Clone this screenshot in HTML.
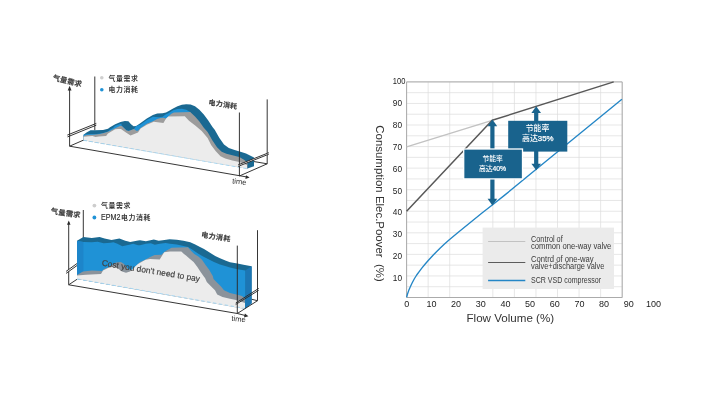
<!DOCTYPE html>
<html><head><meta charset="utf-8"><title>chart</title>
<style>html,body{margin:0;padding:0;background:#fff}body{width:710px;height:400px;overflow:hidden}svg{display:block;will-change:transform}</style>
</head><body>
<svg width="710" height="400" viewBox="0 0 710 400">
<rect width="710" height="400" fill="#fff"/>
<g id="chart1">
<g stroke="#2b2b2b" stroke-width="0.95" fill="none">
<line x1="94.8" y1="76.5" x2="94.8" y2="130.3"/>
<line x1="267.2" y1="99.4" x2="267.2" y2="163.8"/>
<line x1="69.6" y1="146.2" x2="84" y2="139.9"/>
<line x1="250" y1="160.9" x2="267.2" y2="163.8"/>
</g>
<polygon points="83.6,134.7 86.5,132.6 90.5,130.3 94.9,130.3 103.0,130.0 108.0,128.8 110.0,127.3 115.2,124.2 120.5,122.1 124.9,120.9 128.4,121.2 131.0,124.2 133.6,126.2 136.2,126.0 140.6,122.9 146.8,118.6 152.9,115.1 157.2,113.6 162.5,113.3 166.0,112.4 168.8,111.1 173.1,108.5 177.5,106.3 181.9,104.8 186.2,104.3 190.6,104.6 195.0,106.3 199.4,109.8 203.8,114.6 208.1,120.3 212.5,126.9 214.7,129.7 219.4,137.9 224.0,144.4 228.8,147.9 234.6,149.9 240.5,151.8 246.0,153.6 250.0,155.4 254.0,157.5 254.0,166.3 247.5,168.5 83.6,140.3" fill="#1a6992"/>
<polygon points="83.6,134.8 86.1,134.2 90.5,133.9 96.8,133.9 103.0,133.0 108.0,131.4 110.0,129.6 113.0,128.0 115.2,125.8 121.4,123.4 121.6,125.6 126.6,130.4 128.8,130.8 134.0,129.1 136.2,126.0 140.6,124.4 146.8,120.0 152.9,116.8 159.0,117.2 162.5,116.8 166.0,114.2 168.8,112.9 173.1,110.2 177.5,108.9 181.9,108.7 186.2,109.8 190.2,112.0 192.0,116.0 192.0,150.0 83.6,140.3" fill="#1f92d6"/>
<polygon points="83.6,136.0 86.8,135.0 93.6,134.7 99.9,133.9 104.9,132.8 109.2,131.2 115.2,128.2 120.5,125.8 121.8,126.0 126.6,130.5 128.8,131.0 134.0,129.1 136.2,130.8 138.0,130.8 140.6,127.9 146.8,123.8 152.9,121.2 157.2,119.0 160.8,117.9 163.5,117.7 166.1,118.6 168.8,115.9 171.4,113.8 174.0,112.4 190.2,112.0 195.0,116.4 199.4,121.6 203.8,127.8 207.6,132.0 212.3,140.3 217.0,147.3 221.7,151.8 226.4,153.8 233.4,155.5 239.3,157.1 244.0,159.8 247.5,162.6 247.5,168.5 83.6,140.3" fill="#9c9c9c"/>
<polygon points="83.6,136.8 89.2,136.2 92.4,135.9 95.5,137.0 99.0,136.5 106.1,136.0 108.0,133.6 110.5,131.9 115.2,129.3 118.0,128.9 121.0,129.0 125.2,132.0 130.5,135.6 138.0,132.6 140.6,128.6 146.8,124.7 153.8,121.8 163.4,122.9 166.1,118.6 168.3,116.4 184.8,116.2 189.0,120.8 195.2,125.6 201.7,130.9 207.6,137.9 211.1,145.0 215.8,151.2 220.5,156.2 225.2,158.6 232.3,160.5 239.3,162.0 245.0,164.2 247.0,165.0 247.0,168.7 83.6,140.3" fill="#ececec"/>
<line x1="83.6" y1="140.3" x2="247" y2="168.7" stroke="#9dd3f2" stroke-width="0.85" stroke-dasharray="3.5 2.5"/>
<g stroke="#2b2b2b" stroke-width="0.95" fill="none">
<line x1="69.6" y1="88" x2="69.6" y2="146.2"/>
<line x1="69.6" y1="146.2" x2="247" y2="177"/>
<line x1="239.4" y1="112.5" x2="239.4" y2="176"/>
<line x1="239.4" y1="176" x2="267.2" y2="163.8"/>
<polygon points="238.1,164.9 268.8,152.7 268.8,154.2 238.1,166.4" fill="#fff" stroke="none"/>
<line x1="67.3" y1="135.1" x2="96.3" y2="123.4"/>
<line x1="67.5" y1="136.9" x2="96.3" y2="125.2"/>
<line x1="238.1" y1="164.9" x2="268.8" y2="152.7"/>
<line x1="238.1" y1="166.4" x2="268.8" y2="154.2"/>
</g>
<polygon points="69.6,85.8 67.7,90.4 71.5,90.4" fill="#2b2b2b"/>
<polygon points="249.6,177.4 245.4,179 246,175.2" fill="#2b2b2b"/>
</g>
<g id="chart2">
<g stroke="#2b2b2b" stroke-width="0.95" fill="none">
<line x1="83.3" y1="210" x2="83.3" y2="238"/>
<line x1="257.5" y1="230.2" x2="257.5" y2="300.7"/>
<line x1="68.7" y1="284.8" x2="77" y2="279.3"/>
<line x1="251.4" y1="299.2" x2="257.5" y2="300.7"/>
</g>
<polygon points="77.0,240.7 83.4,237.1 91.8,237.9 99.6,237.1 104.6,238.4 111.5,239.9 119.4,238.4 125.3,240.7 130.2,242.0 138.1,240.4 140.0,240.3 145.9,241.3 153.8,239.4 158.7,240.8 162.7,240.3 169.6,239.3 176.8,239.8 183.5,240.7 190.3,242.3 195.2,244.6 200.0,247.1 204.0,249.1 210.0,252.7 215.2,256.0 220.0,258.3 226.0,260.8 230.0,262.2 237.4,263.4 243.5,264.8 251.6,266.3 251.6,303.6 245.2,308.4 77.0,278.9" fill="#1a6992"/>
<polygon points="245.3,270.4 251.6,266.3 251.6,303.6 245.3,308.2" fill="#1c76b4"/>
<polygon points="77.0,240.9 83.4,242.0 91.8,242.3 97.7,241.8 103.6,243.3 110.5,242.8 113.4,242.3 117.4,243.8 122.3,246.3 129.2,244.8 133.2,243.8 138.1,245.3 140.0,245.3 145.9,243.8 150.8,243.3 154.8,244.8 159.7,243.8 165.6,242.9 170.0,243.7 176.8,244.6 183.5,245.9 188.0,247.0 192.5,249.7 198.0,253.6 203.6,256.7 208.0,259.0 214.0,262.0 220.0,264.4 226.0,266.2 230.0,267.5 237.4,269.3 245.3,270.4 245.3,308.0 245.2,308.4 77.0,278.9" fill="#1f92d6"/>
<polygon points="77,240.9 83.4,242 83.4,271.4 77,275" fill="#1d85ca"/>
<polygon points="77.0,275.0 83.0,271.5 92.0,270.5 102.0,271.0 104.0,269.0 108.0,267.5 112.0,265.0 116.0,262.5 121.0,262.0 124.0,264.0 128.0,269.0 132.0,270.5 136.0,266.0 140.0,262.0 145.6,259.5 150.1,257.0 154.6,255.0 161.4,254.8 164.2,252.0 167.0,250.3 171.5,247.8 179.0,247.5 188.0,247.2 191.2,250.9 194.3,254.0 198.4,256.6 202.0,259.8 205.6,265.0 209.2,269.8 211.6,274.0 212.8,276.0 213.5,279.0 217.2,282.8 221.0,286.5 224.0,290.2 230.0,292.9 237.5,294.8 242.0,295.9 245.0,298.5 245.0,309.0 77.0,278.9" fill="#8b939b"/>
<polygon points="77.0,275.5 86.0,274.8 101.0,274.0 103.0,270.5 108.0,268.0 114.0,266.5 118.0,268.5 122.0,271.5 126.0,272.8 130.0,271.5 134.0,267.5 138.0,264.0 142.0,261.8 145.6,259.8 150.1,259.0 159.7,259.5 164.2,252.2 170.0,251.6 181.3,251.5 184.0,254.0 186.0,255.6 190.0,259.0 193.6,262.0 197.2,266.8 200.8,272.2 203.8,276.4 205.0,278.0 206.8,282.0 211.2,286.5 215.0,290.2 217.2,294.4 222.5,297.0 230.0,298.7 236.0,300.0 242.0,301.9 245.0,303.0 245.0,309.0 77.0,278.9" fill="#ececec"/>
<line x1="77" y1="278.9" x2="245" y2="308.4" stroke="#9dd3f2" stroke-width="0.85" stroke-dasharray="3.5 2.5"/>
<g stroke="#2b2b2b" stroke-width="0.95" fill="none">
<line x1="68.7" y1="222" x2="68.7" y2="284.8"/>
<polyline points="68.7,284.8 237.4,313.5 246,315.7"/>
<line x1="237.3" y1="245.6" x2="237.3" y2="313.5"/>
<line x1="237.3" y1="313.5" x2="257.5" y2="300.7"/>
<polygon points="66.1,271.4 77,263.5 77,265.5 66.1,273.4" fill="#fff" stroke="none"/>
<line x1="66.1" y1="271.4" x2="77" y2="263.5"/>
<line x1="66.1" y1="273.4" x2="77" y2="265.5"/>
<line x1="235.7" y1="303.1" x2="258.7" y2="288.4"/>
<line x1="235.7" y1="304.5" x2="258.7" y2="290.3"/>
</g>
<polygon points="68.75,220.4 67,224.8 70.5,224.8" fill="#2b2b2b"/>
<polygon points="248.4,316.3 244,317.4 244.9,313.4" fill="#2b2b2b"/>
</g>
<g id="labels">
<g font-family="Liberation Sans, Noto Sans CJK SC, sans-serif" font-size="6.9" font-weight="bold" letter-spacing="0.65" fill="#3a3a3a">
<text font-size="7.3" letter-spacing="0.2" stroke="#3a3a3a" stroke-width="0.12" x="52.2" y="80" transform="rotate(13.5 52.2 80)">气量需求</text>
<text x="108.5" y="80.5">气量需求</text>
<text x="108.5" y="92.3">电力消耗</text>
<text font-size="7" letter-spacing="0.3" stroke="#3a3a3a" stroke-width="0.12" x="208.2" y="104.8" transform="rotate(8.3 208.2 104.8)">电力消耗</text>
<text font-size="7.3" letter-spacing="0.2" stroke="#3a3a3a" stroke-width="0.12" x="50.6" y="213.6" transform="rotate(8 50.6 213.6)">气量需求</text>
<text x="101" y="208">气量需求</text>
<text font-size="7.1" letter-spacing="0.3" stroke="#3a3a3a" stroke-width="0.12" x="201" y="237" transform="rotate(9 201 237)">电力消耗</text>
</g>
<text font-family="Liberation Sans, Noto Sans CJK SC, sans-serif" font-size="8.2" fill="#2e2e2e" stroke="#2e2e2e" stroke-width="0.15" x="101" y="219.9" textLength="19.4" lengthAdjust="spacingAndGlyphs">EPM2</text>
<text font-family="Liberation Sans, Noto Sans CJK SC, sans-serif" font-size="6.9" font-weight="bold" letter-spacing="0.65" fill="#3a3a3a" x="120.9" y="219.5">电力消耗</text>
<text font-family="Liberation Sans, Noto Sans CJK SC, sans-serif" font-size="7.6" fill="#2e2e2e" x="232" y="183.4" transform="rotate(6 232 183.2)">time</text>
<text font-family="Liberation Sans, Noto Sans CJK SC, sans-serif" font-size="7.6" fill="#2e2e2e" x="231.3" y="320.8" transform="rotate(6 231.3 320.6)">time</text>
<text font-family="Liberation Sans, Noto Sans CJK SC, sans-serif" font-size="8.4" fill="#404040" stroke="#404040" stroke-width="0.15" x="101.4" y="265.6" transform="rotate(9.3 101.4 265.6)">Cost you don't need to pay</text>
<circle cx="101.8" cy="77.8" r="1.8" fill="#cfcfcf"/><circle cx="101.8" cy="89.8" r="1.8" fill="#1f92d6"/>
<circle cx="94.4" cy="205.6" r="1.9" fill="#cdcdcd"/><circle cx="94.4" cy="217.5" r="1.9" fill="#1f92d6"/>
</g>
<g id="linechart">
<g stroke="#dcdcdc" stroke-width="0.7" fill="none">
<line x1="406.6" y1="81.90" x2="622.20" y2="81.90"/>
<line x1="406.6" y1="92.68" x2="622.20" y2="92.68"/>
<line x1="406.6" y1="103.46" x2="622.20" y2="103.46"/>
<line x1="406.6" y1="114.24" x2="622.20" y2="114.24"/>
<line x1="406.6" y1="125.02" x2="622.20" y2="125.02"/>
<line x1="406.6" y1="135.80" x2="622.20" y2="135.80"/>
<line x1="406.6" y1="146.58" x2="622.20" y2="146.58"/>
<line x1="406.6" y1="157.36" x2="622.20" y2="157.36"/>
<line x1="406.6" y1="168.14" x2="622.20" y2="168.14"/>
<line x1="406.6" y1="178.92" x2="622.20" y2="178.92"/>
<line x1="406.6" y1="189.70" x2="622.20" y2="189.70"/>
<line x1="406.6" y1="200.48" x2="622.20" y2="200.48"/>
<line x1="406.6" y1="211.26" x2="622.20" y2="211.26"/>
<line x1="406.6" y1="222.04" x2="622.20" y2="222.04"/>
<line x1="406.6" y1="232.82" x2="622.20" y2="232.82"/>
<line x1="406.6" y1="243.60" x2="622.20" y2="243.60"/>
<line x1="406.6" y1="254.38" x2="622.20" y2="254.38"/>
<line x1="406.6" y1="265.16" x2="622.20" y2="265.16"/>
<line x1="406.6" y1="275.94" x2="622.20" y2="275.94"/>
<line x1="406.6" y1="286.72" x2="622.20" y2="286.72"/>
<line x1="406.6" y1="297.50" x2="622.20" y2="297.50"/>
<line x1="406.60" y1="81.9" x2="406.60" y2="297.5"/>
<line x1="428.16" y1="81.9" x2="428.16" y2="297.5"/>
<line x1="449.72" y1="81.9" x2="449.72" y2="297.5"/>
<line x1="492.84" y1="81.9" x2="492.84" y2="297.5"/>
<line x1="514.40" y1="81.9" x2="514.40" y2="297.5"/>
<line x1="535.96" y1="81.9" x2="535.96" y2="297.5"/>
<line x1="557.52" y1="81.9" x2="557.52" y2="297.5"/>
<line x1="579.08" y1="81.9" x2="579.08" y2="297.5"/>
<line x1="600.64" y1="81.9" x2="600.64" y2="297.5"/>
<line x1="622.20" y1="81.9" x2="622.20" y2="297.5"/>
</g>
<path d="M406.6 81.9 V297.5 H622.20 V81.9 Z" fill="none" stroke="#ababab" stroke-width="1"/>
<rect x="482.6" y="227.6" width="131.4" height="61.4" fill="#ebebeb"/>
<line x1="406.6" y1="146.8" x2="492.2" y2="120.3" stroke="#c2c2c2" stroke-width="1.3"/>
<polyline points="406.6,211.3 492.2,120.3 613.7,81.9" fill="none" stroke="#585858" stroke-width="1.5" stroke-linejoin="round"/>
<polyline points="406.6,297.3 407.6,293.8 408.7,290.6 410.0,287.5 412.1,283.0 414.5,278.5 416.7,275.0 419.0,271.8 422.0,267.9 425.0,264.3 428.0,260.8 431.0,257.5 433.3,255.0 436.5,251.7 440.0,248.3 444.5,244.1 449.0,240.0 458.0,232.5 470.0,222.8 482.0,213.0 492.6,204.8 505.0,194.9 535.9,169.6 621.9,99.3" fill="none" stroke="#2486c6" stroke-width="1.35" stroke-linejoin="round"/>
<rect x="490.29999999999995" y="123.6" width="4.2" height="77.80000000000001" fill="#19638d"/><polygon points="492.4,119.6 487.59999999999997,126.19999999999999 497.2,126.19999999999999" fill="#19638d"/><polygon points="492.4,205.4 487.59999999999997,198.8 497.2,198.8" fill="#19638d"/>
<rect x="534.1" y="110.3" width="4.2" height="56.000000000000014" fill="#19638d"/><polygon points="536.2,106.3 531.4000000000001,112.89999999999999 541.0,112.89999999999999" fill="#19638d"/><polygon points="536.2,170.3 531.4000000000001,163.70000000000002 541.0,163.70000000000002" fill="#19638d"/>
<rect x="508.2" y="120.8" width="59.1" height="30.8" fill="#19638d"/>
<rect x="463.7" y="149" width="58.8" height="29.9" fill="#19638d" stroke="#fff" stroke-width="1.3"/>
<g font-family="Liberation Sans, Noto Sans CJK SC, sans-serif" font-weight="500" fill="#fff" text-anchor="middle">
<text font-size="7.9" x="537.5" y="131">节能率</text><text font-size="7.9" x="537.8" y="141.3">高达<tspan stroke="#fff" stroke-width="0.25">35%</tspan></text>
<text font-size="6.8" x="492.7" y="161.3">节能率</text><text font-size="6.8" x="492.5" y="170.7">高达<tspan stroke="#fff" stroke-width="0.22">40%</tspan></text>
</g>
<line x1="488.1" y1="241.5" x2="525.3" y2="241.5" stroke="#c2c2c2" stroke-width="1.1"/>
<line x1="488.1" y1="262.5" x2="525.3" y2="262.5" stroke="#5c5c5c" stroke-width="1.1"/>
<line x1="488.1" y1="280.4" x2="525.3" y2="280.4" stroke="#2486c6" stroke-width="1.5"/>
<g font-family="Liberation Sans, Noto Sans CJK SC, sans-serif" font-size="8.6" fill="#3a3a3a">
<text x="531" y="241.5" textLength="31.7" lengthAdjust="spacingAndGlyphs">Control of</text><text x="531" y="248.6" textLength="80.3" lengthAdjust="spacingAndGlyphs">common one-way valve</text>
<text x="531" y="262.4" textLength="62.7" lengthAdjust="spacingAndGlyphs">Contrd of one-way</text><text x="531" y="269.1" textLength="73.3" lengthAdjust="spacingAndGlyphs">valve+discharge valve</text>
<text x="531" y="283.4" textLength="70.1" lengthAdjust="spacingAndGlyphs">SCR VSD compressor</text>
</g>
<g font-family="Liberation Sans, Noto Sans CJK SC, sans-serif" font-size="9" fill="#222">
<text x="392.8" y="84.3" textLength="12.6" lengthAdjust="spacingAndGlyphs">100</text>
<text x="392.8" y="106.1" textLength="9.2" lengthAdjust="spacingAndGlyphs">90</text>
<text x="392.8" y="128.0" textLength="9.2" lengthAdjust="spacingAndGlyphs">80</text>
<text x="392.8" y="149.8" textLength="9.2" lengthAdjust="spacingAndGlyphs">70</text>
<text x="392.8" y="171.7" textLength="9.2" lengthAdjust="spacingAndGlyphs">60</text>
<text x="392.8" y="193.5" textLength="9.2" lengthAdjust="spacingAndGlyphs">50</text>
<text x="392.8" y="215.3" textLength="9.2" lengthAdjust="spacingAndGlyphs">40</text>
<text x="392.8" y="237.2" textLength="9.2" lengthAdjust="spacingAndGlyphs">30</text>
<text x="392.8" y="259.0" textLength="9.2" lengthAdjust="spacingAndGlyphs">20</text>
<text x="392.8" y="280.9" textLength="9.2" lengthAdjust="spacingAndGlyphs">10</text>
<text x="406.8" y="306.6" text-anchor="middle">0</text>
<text x="431.5" y="306.6" text-anchor="middle">10</text>
<text x="456.1" y="306.6" text-anchor="middle">20</text>
<text x="480.8" y="306.6" text-anchor="middle">30</text>
<text x="505.4" y="306.6" text-anchor="middle">40</text>
<text x="530.1" y="306.6" text-anchor="middle">50</text>
<text x="554.8" y="306.6" text-anchor="middle">60</text>
<text x="579.4" y="306.6" text-anchor="middle">70</text>
<text x="604.1" y="306.6" text-anchor="middle">80</text>
<text x="628.7" y="306.6" text-anchor="middle">90</text>
<text x="653.4" y="306.6" text-anchor="middle">100</text>
</g>
<text font-family="Liberation Sans, Noto Sans CJK SC, sans-serif" font-size="11.6" fill="#333" x="510.3" y="321.6" text-anchor="middle">Flow Volume (%)</text>
<text font-family="Liberation Sans, Noto Sans CJK SC, sans-serif" font-size="11.6" fill="#333" transform="translate(376 125.3) rotate(90)" textLength="156.4" lengthAdjust="spacingAndGlyphs" xml:space="preserve">Consumption Elec.Poover  (%)</text>
</g>
</svg>
</body></html>
